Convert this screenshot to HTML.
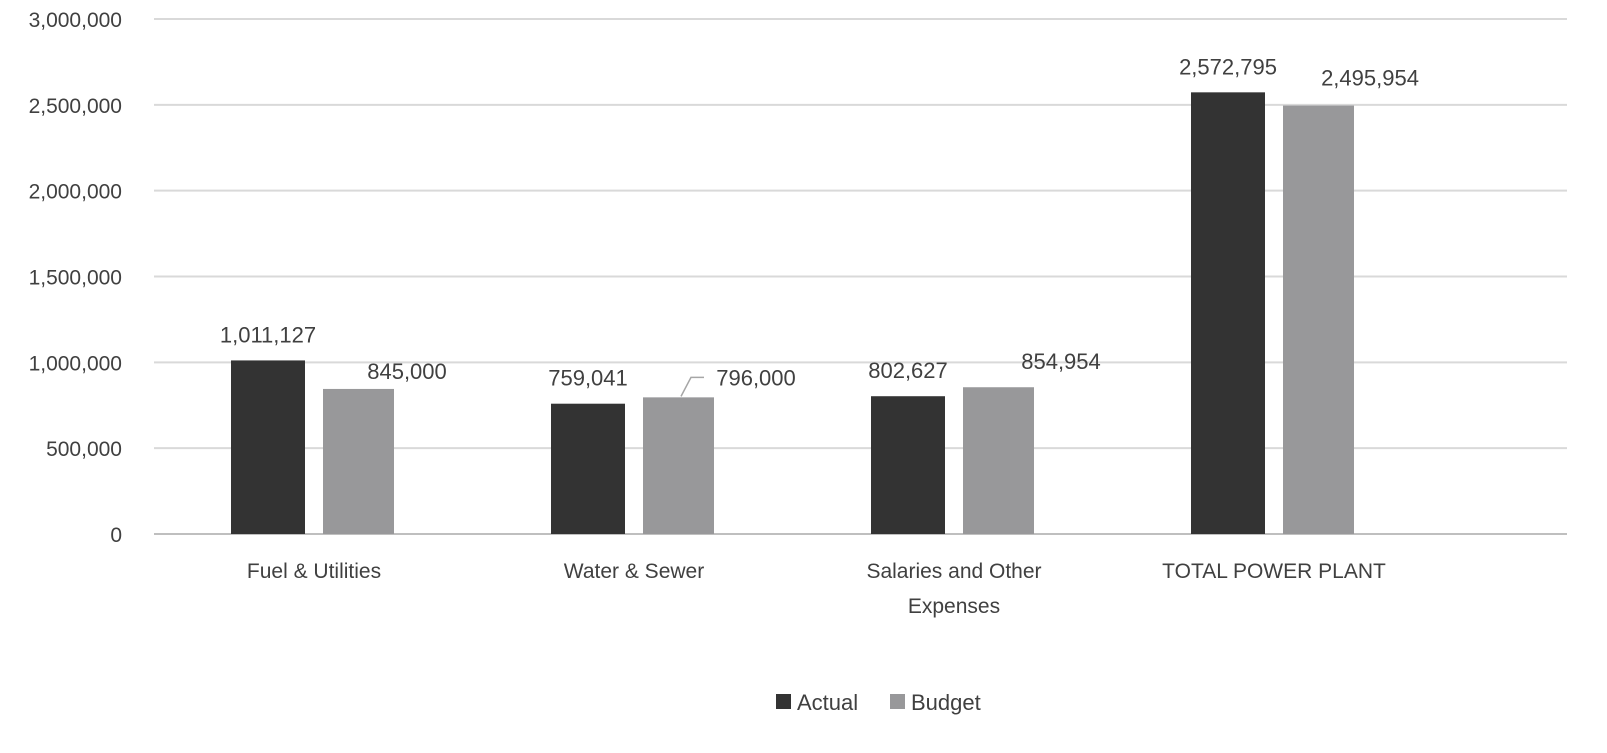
<!DOCTYPE html>
<html><head><meta charset="utf-8"><style>
body{margin:0;background:#fff;}
svg text{font-family:"Liberation Sans",sans-serif;fill:#404040;}
</style></head><body>
<svg width="1607" height="748" id="c"></svg>
<script>
const categories=[["Fuel & Utilities"],["Water & Sewer"],["Salaries and Other","Expenses"],["TOTAL POWER PLANT"]];
const actual=[1011127,759041,802627,2572795];
const budget=[845000,796000,854954,2495954];
const ticks=[0,500000,1000000,1500000,2000000,2500000,3000000];
const NS="http://www.w3.org/2000/svg";
const svg=document.getElementById('c');
const x0=154,gx1=1567,yb=534,yt=19,max=3000000,bw=320;
const y=v=>yb-(v/max)*(yb-yt);
const fmt=v=>v.toLocaleString('en-US');
function mk(t,a){const e=document.createElementNS(NS,t);for(const k in a)e.setAttribute(k,a[k]);svg.appendChild(e);return e;}
ticks.forEach(t=>{
 const l=mk('line',{x1:x0,x2:gx1,y1:y(t),y2:y(t),stroke:t===0?'#bfbfbf':'#d9d9d9','stroke-width':2});
 
 
 const tx=mk('text',{x:122,y:y(t)+8,'text-anchor':'end','font-size':21});
 tx.textContent=fmt(t);
 
 
});
const labOff=[47,76,61,50];
categories.forEach((c,i)=>{
 const cx=x0+bw*(i+0.5);
 const w=74,g=18;
 const ax=cx-g/2-w, bx=cx+g/2;
 const ra=mk('rect',{x:ax,y:y(actual[i]),width:w,height:yb-y(actual[i]),fill:'#333333'});
 
 
 const rb=mk('rect',{x:bx,y:y(budget[i]),width:w-3,height:yb-y(budget[i]),fill:'#98989a'});
 
 
 const la=mk('text',{x:ax+w/2,y:y(actual[i])-18,'text-anchor':'middle','font-size':22});
 la.textContent=fmt(actual[i]);
 
 
 let bly=y(budget[i])-10, blx=bx+w/2+labOff[i];
 if(i===1){bly=y(budget[i])-12;
  const p=mk('polyline',{points:`${bx+w/2+1},${y(budget[i])-1} ${bx+w/2+11},${bly-8} ${bx+w/2+24},${bly-8}`,fill:'none',stroke:'#a6a6a6','stroke-width':1.5});
  
  
 }
 if(i===2){bly=y(budget[i])-18;}
 if(i===3){bly=y(budget[i])-20;}
 const lb=mk('text',{x:blx,y:bly,'text-anchor':'middle','font-size':22});
 lb.textContent=fmt(budget[i]);
 
 
 c.forEach((s,j)=>{
  const t=mk('text',{x:cx,y:578+j*35,'text-anchor':'middle','font-size':21});
  t.textContent=s;
  
  
 });
});
const legend=[["Actual","#333333",776],["Budget","#98989a",890]];
legend.forEach(l=>{
 const r=mk('rect',{x:l[2],y:694,width:15,height:15,fill:l[1]});
 
 
 const t=mk('text',{x:l[2]+21,y:710,'font-size':22});
 t.textContent=l[0];
 
 
});
</script>
</body></html>
